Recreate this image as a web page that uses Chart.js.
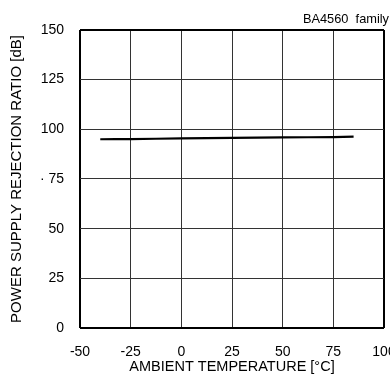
<!DOCTYPE html>
<html>
<head>
<meta charset="utf-8">
<script src="https://cdn.jsdelivr.net/npm/chart.js@4"></script>
<style>
  html, body { margin: 0; padding: 0; background: #fff; overflow: hidden; }
  #wrap { width: 390px; height: 376px; position: relative; }
</style>
</head>
<body>
<div id="wrap"><canvas id="c"></canvas></div>
<script>
const temperatures = [-40, -25, 0, 25, 50, 75, 85];
const psrrValues = [95.0, 95.1, 95.4, 95.7, 95.9, 96.1, 96.3];
const xTickValues = [-50, -25, 0, 25, 50, 75, 100];
const yTickValues = [0, 25, 50, 75, 100, 125, 150];
const yTickLabels = ['0', '25', '50', '\u00b7 75', '100', '125', '150'];
const chartNote = 'BA4560  family';
const xTitle = 'AMBIENT TEMPERATURE [\u00b0C]';
const yTitle = 'POWER SUPPLY REJECTION RATIO [dB]';

const FONT = '"Liberation Sans", Arial, sans-serif';

const points = temperatures.map((t, i) => ({ x: t, y: psrrValues[i] }));

const edgeWidth = (ctx) => {
  const n = ctx.scale.ticks.length;
  return (ctx.index === 0 || ctx.index === n - 1) ? 2 : 1;
};
const edgeColor = (ctx) => {
  const n = ctx.scale.ticks.length;
  return (ctx.index === 0 || ctx.index === n - 1) ? '#000' : '#333';
};

new Chart(document.getElementById('c'), {
  type: 'line',
  data: {
    datasets: [{
      data: points,
      borderColor: '#000',
      borderWidth: 2.2,
      pointRadius: 0,
      tension: 0.3,
      fill: false
    }]
  },
  options: {
    responsive: true,
    maintainAspectRatio: false,
    animation: false,
    layout: { padding: { left: 0, right: 1, top: 0, bottom: 0 } },
    plugins: {
      legend: { display: false },
      tooltip: { enabled: false },
      title: {
        display: true,
        text: chartNote,
        align: 'end',
        color: '#000',
        font: { family: FONT, size: 12.8, weight: 'normal' },
        padding: { top: 11.5, bottom: 3.1 }
      }
    },
    scales: {
      x: {
        type: 'linear',
        min: -50,
        max: 100,
        afterBuildTicks: (s) => { s.ticks = xTickValues.map(v => ({ value: v })); },
        afterFit: (s) => { s.height = 48; s.paddingRight = 6; },
        border: { display: false },
        grid: { color: edgeColor, lineWidth: edgeWidth, drawTicks: false },
        ticks: {
          color: '#000',
          padding: 16,
          maxRotation: 0,
          font: { family: FONT, size: 14 },
          callback: (v) => String(v)
        },
        title: {
          display: true,
          text: xTitle,
          color: '#000',
          font: { family: FONT, size: 14.5 },
          padding: { top: 0, bottom: 0 }
        }
      },
      y: {
        min: 0,
        max: 150,
        afterBuildTicks: (s) => { s.ticks = yTickValues.map(v => ({ value: v })); },
        afterFit: (s) => { s.width = 80; },
        border: { display: false },
        grid: { color: edgeColor, lineWidth: edgeWidth, drawTicks: false },
        ticks: {
          color: '#000',
          padding: 16,
          font: { family: FONT, size: 14 },
          callback: (v) => { const i = yTickValues.indexOf(v); return i >= 0 ? yTickLabels[i] : String(v); }
        },
        title: {
          display: true,
          text: yTitle,
          color: '#000',
          font: { family: FONT, size: 15 },
          padding: { top: 8, bottom: 0 }
        }
      }
    }
  }
});
</script>
</body>
</html>
